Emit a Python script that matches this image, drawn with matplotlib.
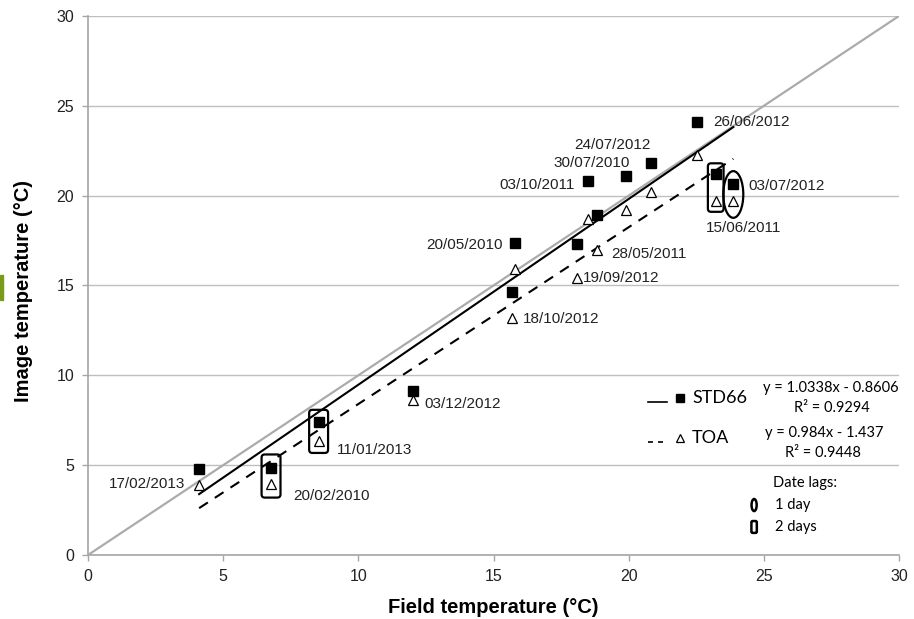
import matplotlib
matplotlib.use('Agg')
import matplotlib.pyplot as plt
from matplotlib.patches import FancyBboxPatch, Ellipse, Rectangle
import numpy as np

# Dados
datas = ['17/02/2013', '20/02/2010', '11/01/2013', '03/12/2012', '18/10/2012',
         '20/05/2010', '19/09/2012', '03/10/2011', '28/05/2011', '30/07/2010',
         '24/07/2012', '26/06/2012', '15/06/2011', '03/07/2012']
campo = [4.11, 6.77, 8.53, 12.01, 15.70, 15.80, 18.08, 18.48, 18.82, 19.90,
         20.82, 22.52, 23.22, 23.87]
std66 = [4.77, 4.86, 7.42, 9.14, 14.65, 17.35, 17.31, 20.81, 18.92, 21.09,
         21.83, 24.11, 21.20, 20.63]
toa = [3.90, 3.93, 6.34, 8.62, 13.20, 15.90, 15.40, 18.70, 17.00, 19.20,
       20.22, 22.26, 19.70, 19.70]

# Retas de regressão (coeficientes do gráfico)
coef_std66 = [1.0338, -0.8606]
coef_toa = [0.984, -1.437]
r2_std66 = 0.9294
r2_toa = 0.9448

# Defasagem de datas: índice -> dias
defasagem = {1: 2, 2: 2, 12: 2, 13: 1}

# Posição dos rótulos (série de referência, dx, dy em pixels, alinhamento)
rotulos = [('t', -14, 1, 'right'), ('t', 22, -12, 'left'), ('t', 18, -9, 'left'),
           ('t', 12, -4, 'left'), ('t', 10, -1, 'left'), ('s', -12, -2, 'right'),
           ('t', 6, 0, 'left'), ('s', -13, -4, 'right'), ('t', 14, -4, 'left'),
           ('s', 4, 13, 'right'), ('s', 0, 18, 'right'), ('s', 16, 0, 'left'),
           ('t', 28, -27, 'center'), ('s', 15, -2, 'left')]

fig = plt.figure(figsize=(9.14, 6.19), dpi=100)
ax = fig.add_axes([0.0963, 0.1034, 0.8873, 0.8708])

cinza = '#bfbfbf'
fonte = 'Liberation Sans'
fonte_leg = 'Lato'

# Linha 1:1
ax.plot([0, 30], [0, 30], color='#ababab', lw=1.6, zorder=2)

# Retas de tendência
xr = np.array([min(campo), max(campo)])
ax.plot(xr, coef_std66[0] * xr + coef_std66[1], color='black', lw=1.5, zorder=3)
ax.plot(xr, coef_toa[0] * xr + coef_toa[1], color='black', lw=1.5,
        dashes=(5, 4), zorder=3)

# Pontos
ax.plot(campo, std66, 's', color='black', ms=7.5, zorder=5)
ax.plot(campo, toa, '^', mfc='white', mec='black', mew=0.9, ms=7.5, zorder=5)

# Rótulos das datas
for i, (serie, dx, dy, ha) in enumerate(rotulos):
    y = std66[i] if serie == 's' else toa[i]
    ax.annotate(datas[i], (campo[i], y), xytext=(dx, dy), textcoords='offset pixels',
                ha=ha, va='center', fontsize=11, family=fonte, color='#222222', zorder=6)

# Marcação das defasagens
for i, dias in defasagem.items():
    yc = (std66[i] + toa[i]) / 2
    if dias == 2:
        w, h = (0.58, 2.7) if campo[i] > 20 else (0.70, 2.4)
        ax.add_patch(FancyBboxPatch((campo[i] - w / 2, yc - h / 2), w, h,
                                    boxstyle='round,pad=0,rounding_size=0.12',
                                    mutation_aspect=1.5, fill=False,
                                    ec='black', lw=1.6, zorder=4))
    else:
        ax.add_patch(Ellipse((campo[i], yc - 0.1), 0.74, 2.6, fill=False,
                             ec='black', lw=1.6, zorder=4))

# Legenda manual
ax.plot([20.72, 21.42], [8.51, 8.51], color='black', lw=1.2)
ax.plot([21.9], [8.74], 's', color='black', ms=6)
ax.text(22.35, 8.74, 'STD66', fontsize=13, family=fonte_leg, va='center', ha='left')
ax.plot([20.72, 21.42], [6.29, 6.29], color='black', lw=1.2, dashes=(3, 3))
ax.plot([21.9], [6.51], '^', mfc='white', mec='black', mew=0.9, ms=6)
ax.text(22.35, 6.51, 'TOA', fontsize=13, family=fonte_leg, va='center', ha='left')

ax.text(27.49, 9.29, 'y = %.4fx - %.4f' % (coef_std66[0], -coef_std66[1]),
        fontsize=10.5, family=fonte_leg, ha='center', va='center')
ax.text(27.52, 8.18, 'R² = %.4f' % r2_std66, fontsize=10.5, family=fonte_leg,
        ha='center', va='center')
ax.text(27.23, 6.79, 'y = %gx - %g' % (coef_toa[0], -coef_toa[1]),
        fontsize=10.5, family=fonte_leg, ha='center', va='center')
ax.text(27.19, 5.68, 'R² = %.4f' % r2_toa, fontsize=10.5, family=fonte_leg,
        ha='center', va='center')

ax.text(26.53, 4.0, 'Date lags:', fontsize=10.5, family=fonte_leg, ha='center', va='center')
ax.add_patch(Ellipse((24.64, 2.78), 0.19, 0.67, fill=False, ec='black', lw=1.8))
ax.text(25.42, 2.78, '1 day', fontsize=10.5, family=fonte_leg, ha='left', va='center')
ax.add_patch(FancyBboxPatch((24.64 - 0.1, 1.56 - 0.33), 0.2, 0.66,
                            boxstyle='round,pad=0,rounding_size=0.05',
                            mutation_aspect=1.5, fill=False, ec='black', lw=1.8))
ax.text(25.42, 1.56, '2 days', fontsize=10.5, family=fonte_leg, ha='left', va='center')

# Eixos
ax.set_xlim(0, 30)
ax.set_ylim(0, 30)
ax.set_xticks(range(0, 31, 5))
ax.set_yticks(range(0, 31, 5))
ax.grid(axis='y', color=cinza, lw=1)
ax.set_axisbelow(True)
for lado in ['top', 'right']:
    ax.spines[lado].set_visible(False)
for lado in ['left', 'bottom']:
    ax.spines[lado].set_color('#a6a6a6')
    ax.spines[lado].set_linewidth(1.2)
ax.tick_params(direction='out', length=4, color='#a6a6a6', width=1,
               labelsize=11.5, labelcolor='#222222', pad=6)
for lbl in ax.get_xticklabels() + ax.get_yticklabels():
    lbl.set_family(fonte)

ax.set_xlabel('Field temperature (°C)', fontsize=14.5, fontweight='bold', family=fonte)
ax.set_ylabel('Image temperature (°C)', fontsize=14.5, fontweight='bold', family=fonte)
ax.xaxis.set_label_coords(0.5, -0.08)
ax.yaxis.set_label_coords(-0.068, 0.49)

# Pequena marca verde na borda esquerda
fig.patches.append(Rectangle((0, 1 - 300 / 619), 3 / 914, 25 / 619,
                             transform=fig.transFigure, color='#7a9a1a'))

fig.savefig('out.png', dpi=100)
